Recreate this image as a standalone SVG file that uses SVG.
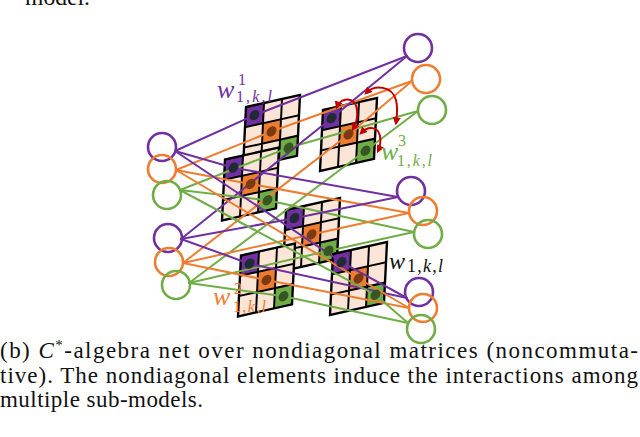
<svg xmlns="http://www.w3.org/2000/svg" xmlns:xlink="http://www.w3.org/1999/xlink" width="640" height="437" viewBox="0 0 640 437">
<style>
.ln{fill:none;stroke-width:2;stroke-linejoin:round;stroke-linecap:round}
.lp{stroke:#7030a0}.lo{stroke:#ed7d31}.lg{stroke:#70ad47}
.cp{fill:none;stroke:#7030a0;stroke-width:2.6}
.co{fill:none;stroke:#ed7d31;stroke-width:2.6}
.cg{fill:none;stroke:#70ad47;stroke-width:2.6}
.red{fill:none;stroke:#c00000;stroke-width:2;marker-start:url(#ah);marker-end:url(#ah)}
.cap{font-family:"Liberation Serif",serif;font-size:23px;fill:#111}
.lab{font-family:"Liberation Serif",serif}
</style>
<defs>
<marker id="ah" viewBox="0 0 10 10" refX="7" refY="5" markerWidth="4" markerHeight="4" orient="auto-start-reverse"><path d="M0,0 L10,5 L0,10 z" fill="#c00000"/></marker>
<g id="mtx">
<rect width="54" height="60" fill="#fbe5d6"/>
<rect width="18" height="20" fill="#7030a0"/>
<rect x="18" y="20" width="18" height="20" fill="#ed7d31"/>
<rect x="36" y="40" width="18" height="20" fill="#70ad47"/>
<path d="M18,0V60M36,0V60M0,20H54M0,40H54" stroke="#000" stroke-width="2" fill="none"/>
<rect width="54" height="60" fill="none" stroke="#000" stroke-width="2.4"/>
</g>
<g id="dots">
<circle cx="9" cy="10" r="5" fill="#222a35"/>
<circle cx="27" cy="30" r="5" fill="#7b3a12"/>
<circle cx="45" cy="50" r="5" fill="#375623"/>
</g>
</defs>
<rect width="640" height="437" fill="#fff"/>
<text class="cap" x="25" y="5" textLength="65" lengthAdjust="spacingAndGlyphs">model.</text>

<g id="matrix-A"><use xlink:href="#mtx" transform="matrix(1 -0.222 -0.05 1.015 246 107)"/></g>
<g id="matrix-C"><use xlink:href="#mtx" transform="matrix(1 -0.222 -0.05 1.015 225 159.5)"/></g>
<g id="matrix-B"><use xlink:href="#mtx" transform="matrix(1 -0.222 -0.05 1.015 323 110)"/></g>
<g id="matrix-D"><use xlink:href="#mtx" transform="matrix(1 -0.222 -0.05 1.015 286 210)"/></g>
<g id="matrix-E"><use xlink:href="#mtx" transform="matrix(1 -0.222 -0.05 1.015 241 255.5)"/></g>
<g id="matrix-F"><use xlink:href="#mtx" transform="matrix(1 -0.222 -0.05 1.015 333 254)"/></g>

<g id="connectors">
<polyline class="ln lp" points="175,151 254.5,115.2 407,56"/>
<polyline class="ln lo" points="176,170 271.5,131.5 412,81"/>
<polyline class="ln lg" points="180,190 288.5,147.8 418,111"/>
<polyline class="ln lp" points="181,239 331.5,118.2 407,56"/>
<polyline class="ln lo" points="183,263 348.5,134.5 412,81"/>
<polyline class="ln lg" points="189,283 365.5,150.8 418,111"/>
<polyline class="ln lp" points="175,151 233.5,167.7 398,197"/>
<polyline class="ln lo" points="176,170 250.5,184 409,213"/>
<polyline class="ln lg" points="180,190 267.5,200.3 414,232"/>
<polyline class="ln lp" points="181,239 294.5,218.2 398,197"/>
<polyline class="ln lo" points="183,263 311.5,234.5 409,213"/>
<polyline class="ln lg" points="189,283 328.5,250.8 414,232"/>
<polyline class="ln lp" points="181,239 249.5,263.7 407,298"/>
<polyline class="ln lo" points="183,263 266.5,280 409,308"/>
<polyline class="ln lg" points="189,283 283.5,296.3 408,323"/>
<polyline class="ln lp" points="175,151 341.5,262.2 407,298"/>
<polyline class="ln lo" points="176,170 358.5,278.5 409,308"/>
<polyline class="ln lg" points="180,190 375.5,294.8 408,323"/>
</g>

<g id="matrix-dots">
<use xlink:href="#dots" transform="matrix(1 -0.222 -0.05 1.015 246 107)"/>
<use xlink:href="#dots" transform="matrix(1 -0.222 -0.05 1.015 225 159.5)"/>
<use xlink:href="#dots" transform="matrix(1 -0.222 -0.05 1.015 323 110)"/>
<use xlink:href="#dots" transform="matrix(1 -0.222 -0.05 1.015 286 210)"/>
<use xlink:href="#dots" transform="matrix(1 -0.222 -0.05 1.015 241 255.5)"/>
<use xlink:href="#dots" transform="matrix(1 -0.222 -0.05 1.015 333 254)"/>
</g>

<g id="in1-p"><circle class="cp" cx="162" cy="147" r="14"/></g>
<g id="in1-o"><circle class="co" cx="162" cy="169" r="14"/></g>
<g id="in1-g"><circle class="cg" cx="167" cy="195" r="14"/></g>
<g id="in2-p"><circle class="cp" cx="168" cy="238" r="14"/></g>
<g id="in2-o"><circle class="co" cx="169" cy="262" r="14"/></g>
<g id="in2-g"><circle class="cg" cx="176" cy="285" r="14"/></g>
<g id="out1-p"><circle class="cp" cx="418" cy="48" r="14"/></g>
<g id="out1-o"><circle class="co" cx="426" cy="79" r="14"/></g>
<g id="out1-g"><circle class="cg" cx="432" cy="110" r="14"/></g>
<g id="out2-p"><circle class="cp" cx="411" cy="191" r="14"/></g>
<g id="out2-o"><circle class="co" cx="423" cy="211" r="14"/></g>
<g id="out2-g"><circle class="cg" cx="428" cy="234" r="14"/></g>
<g id="out3-p"><circle class="cp" cx="419" cy="292" r="14"/></g>
<g id="out3-o"><circle class="co" cx="423" cy="308" r="14"/></g>
<g id="out3-g"><circle class="cg" cx="421" cy="329" r="14"/></g>

<g id="interactions">
<path class="red" d="M337,107 C340,97 356,96 357,110 C358,118 356,124 353,129"/>
<path class="red" d="M366,93 C375,84 392,86 396,100 C398,108 397,116 396,123"/>
<path class="red" d="M361,133 C368,126 378,126 380,136 C381,142 380,147 378,151"/>
</g>

<g id="labels" class="lab">
<g fill="#7030a0"><text x="217" y="98" font-size="26" font-style="italic">w</text><text x="238" y="85" font-size="16">1</text><text x="236" y="102" font-size="16" textLength="36"><tspan>1,</tspan><tspan font-style="italic">k</tspan><tspan>,</tspan><tspan font-style="italic">l</tspan></text></g>
<g fill="#70ad47"><text x="381" y="160" font-size="26" font-style="italic">w</text><text x="398" y="146" font-size="16">3</text><text x="397" y="166" font-size="16" textLength="35"><tspan>1,</tspan><tspan font-style="italic">k</tspan><tspan>,</tspan><tspan font-style="italic">l</tspan></text></g>
<g fill="#ed7d31"><text x="213" y="305" font-size="26" font-style="italic">w</text><text x="234" y="294" font-size="16">2</text><text x="233" y="312" font-size="16" textLength="33"><tspan>1,</tspan><tspan font-style="italic">k</tspan><tspan>,</tspan><tspan font-style="italic">l</tspan></text></g>
<g fill="#111"><text x="389" y="269" font-size="24" font-style="italic">w</text><text x="407" y="272" font-size="18" textLength="36"><tspan>1,</tspan><tspan font-style="italic">k</tspan><tspan>,</tspan><tspan font-style="italic">l</tspan></text></g>
</g>

<g id="caption">
<text class="cap" x="0" y="358" textLength="638" lengthAdjust="spacing">(b) <tspan font-style="italic">C</tspan><tspan dy="-8" font-size="15">*</tspan><tspan dy="8">-algebra net over nondiagonal matrices (noncommuta-</tspan></text>
<text class="cap" x="0" y="383" textLength="638" lengthAdjust="spacing">tive).  The nondiagonal elements induce the interactions among</text>
<text class="cap" x="0" y="407" textLength="203" lengthAdjust="spacing">multiple sub-models.</text>
</g>
</svg>
